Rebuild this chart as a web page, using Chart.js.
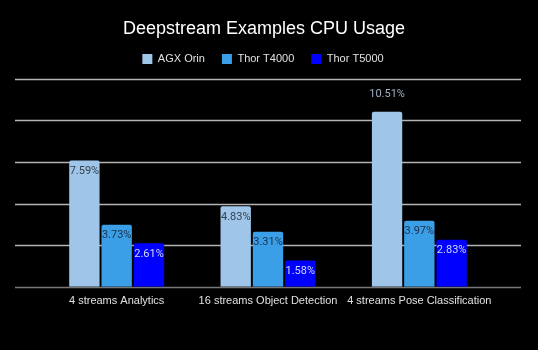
<!DOCTYPE html>
<html>
<head>
<meta charset="utf-8">
<script src="https://cdn.jsdelivr.net/npm/chart.js@4.4.1/dist/chart.umd.min.js"></script>
<style>
  html, body { margin: 0; padding: 0; background: #000; }
  #wrap { width: 538px; height: 350px; }
</style>
</head>
<body>
<div id="wrap"><canvas id="c" width="538" height="350"></canvas></div>
<script>
const categories = ["4 streams Analytics", "16 streams Object Detection", "4 streams Pose Classification"];
const seriesNames = ["AGX Orin", "Thor T4000", "Thor T5000"];
const agxOrin = [7.59, 4.83, 10.51];
const thorT4000 = [3.73, 3.31, 3.97];
const thorT5000 = [2.61, 1.58, 2.83];
const yTicks = [0, 2.5, 5, 7.5, 10, 12.5];

const barColors = ["#9fc5e8", "#3b9fe8", "#0000ff"];
const labelColors = ["#35424f", "#1d2f48", "#d0d8ff"];
const outsideLabelColor = "#9fb1c2";

// Extend horizontal gridlines past the plot area, like the reference
const gridPlugin = {
  id: "wideGrid",
  beforeDatasetsDraw(chart) {
    const ctx = chart.ctx;
    const y = chart.scales.y;
    ctx.save();
    yTicks.forEach(v => {
      const py = Math.round(y.getPixelForValue(v)) + 0.5;
      ctx.beginPath();
      ctx.lineWidth = v === 0 ? 1.5 : 1.3;
      ctx.strokeStyle = v === 0 ? "#777777" : "#b4b4b4";
      ctx.moveTo(15, py);
      ctx.lineTo(521, py);
      ctx.stroke();
    });
    ctx.restore();
  }
};

// Nudge the title and legend a few pixels without changing the plot area
function wrapShift(box, dx, dy, ctxGetter) {
  if (!box || box._shifted) return;
  const orig = box.draw.bind(box);
  box.draw = function () {
    const ctx = ctxGetter();
    ctx.save();
    ctx.translate(dx, dy);
    orig();
    ctx.restore();
  };
  box._shifted = true;
}
const headerShift = {
  id: "headerShift",
  afterInit(chart) {
    wrapShift(chart.legend, -5, -4, () => chart.ctx);
    wrapShift(chart.titleBlock, -4, 0, () => chart.ctx);
  }
};

const maxVal = Math.max(...agxOrin, ...thorT4000, ...thorT5000);

const labelPlugin = {
  id: "barLabels",
  afterDatasetsDraw(chart) {
    const ctx = chart.ctx;
    ctx.save();
    ctx.font = "11px Roboto";
    ctx.textAlign = "center";
    ctx.textBaseline = "middle";
    chart.data.datasets.forEach((ds, di) => {
      const meta = chart.getDatasetMeta(di);
      meta.data.forEach((bar, i) => {
        const v = ds.data[i];
        const txt = v.toFixed(2) + "%";
        if (v === maxVal) {
          ctx.fillStyle = outsideLabelColor;
          ctx.fillText(txt, bar.x, bar.y - 17);
        } else {
          ctx.fillStyle = labelColors[di];
          ctx.fillText(txt, bar.x, bar.y + 11);
        }
      });
    });
    ctx.restore();
  }
};

const datasets = [agxOrin, thorT4000, thorT5000].map((d, i) => ({
  label: seriesNames[i],
  data: d,
  backgroundColor: barColors[i],
  borderRadius: 2,
  borderSkipped: "bottom",
  barPercentage: 0.94,
  categoryPercentage: 0.64
}));

new Chart(document.getElementById("c"), {
  type: "bar",
  data: { labels: categories, datasets },
  plugins: [gridPlugin, labelPlugin, headerShift],
  options: {
    responsive: false,
    animation: false,
    devicePixelRatio: 1,
    layout: { padding: { left: 41, right: 43, top: 0, bottom: 42 } },
    plugins: {
      title: {
        display: true,
        text: "Deepstream Examples CPU Usage",
        color: "#ffffff",
        font: { family: "Liberation Sans", size: 18, weight: "normal" },
        padding: { top: 18, bottom: 1 }
      },
      legend: {
        position: "top",
        labels: {
          color: "#e0e0e0",
          font: { family: "Liberation Sans", size: 11 },
          boxWidth: 10,
          boxHeight: 10,
          padding: 17
        }
      },
      tooltip: { enabled: false }
    },
    scales: {
      x: {
        grid: { display: false },
        border: { display: false },
        ticks: {
          color: "#e0e0e0",
          font: { family: "Liberation Sans", size: 11 },
          padding: 0,
          maxRotation: 0,
          autoSkip: false
        }
      },
      y: {
        display: false,
        min: 0,
        max: 12.5,
        ticks: { stepSize: 2.5 }
      }
    }
  }
});
</script>
</body>
</html>
